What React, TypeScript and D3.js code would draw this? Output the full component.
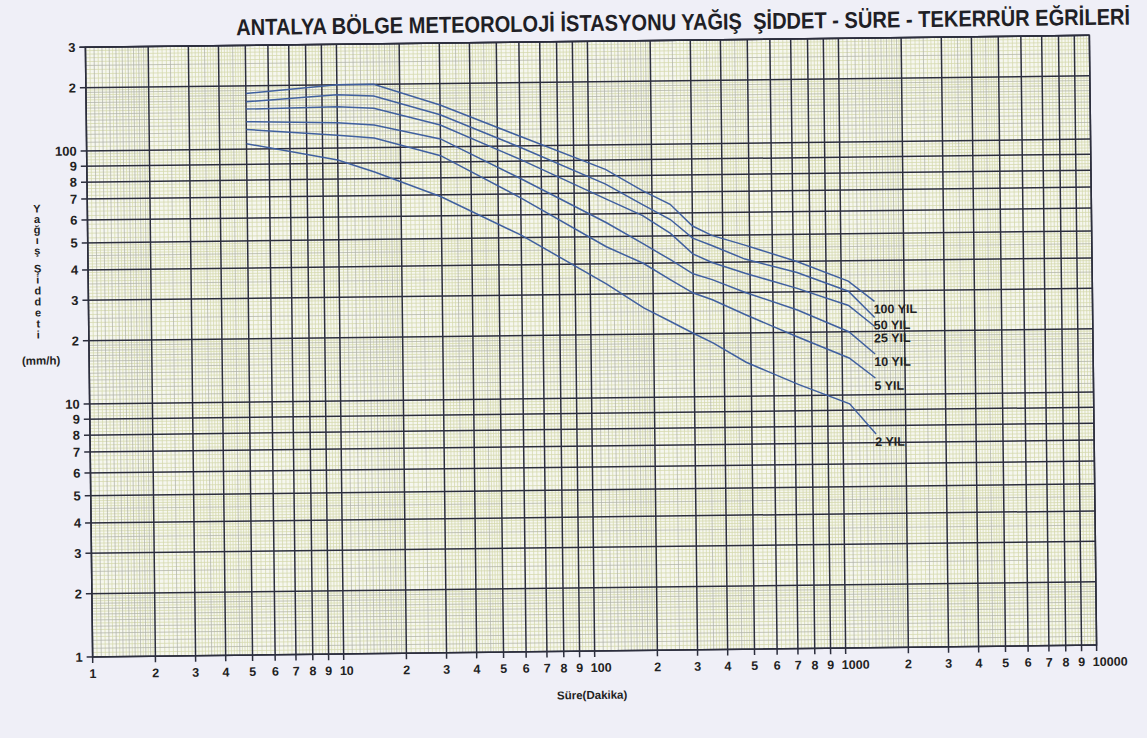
import React, { useLayoutEffect, useRef, useState } from 'react';
import * as d3 from 'd3';

// süre (dakika) and yağış şiddeti (mm/h)
const durations = [5, 10, 15, 30, 60, 120, 180, 240, 300, 360, 480, 720, 1080, 1440];
const periods = ['100 YIL', '50 YIL', '25 YIL', '10 YIL', '5 YIL', '2 YIL'];
const yil100 = [184, 200, 200, 158, 111, 84, 71, 64, 54, 50, 46, 40, 33, 27];
const yil50 = [168, 179, 176, 142, 99, 75, 64, 57, 49, 46, 41, 36, 30, 23];
const yil25 = [155, 157, 154, 127, 91, 67, 59, 51, 43, 40, 36, 31, 26, 21];
const yil10 = [135, 132, 128, 109, 79, 56, 47, 41, 36, 34, 30, 25, 20, 15.6];
const yil5 = [124, 115, 111, 94, 68, 46, 40, 34, 30, 28, 24, 19, 15, 12];
const yil2 = [106, 92, 84, 69, 51, 33, 26, 22.5, 20, 18, 14.5, 11.3, 9.4, 7.5];
const series = [yil100, yil50, yil25, yil10, yil5, yil2];

const xTicks = [
  1, 2, 3, 4, 5, 6, 7, 8, 9,
  10, 20, 30, 40, 50, 60, 70, 80, 90,
  100, 200, 300, 400, 500, 600, 700, 800, 900,
  1000, 2000, 3000, 4000, 5000, 6000, 7000, 8000, 9000,
  10000,
];
const yTicks = [
  1, 2, 3, 4, 5, 6, 7, 8, 9,
  10, 20, 30, 40, 50, 60, 70, 80, 90,
  100, 200, 300,
];

const title = 'ANTALYA BÖLGE METEOROLOJİ İSTASYONU YAĞIŞ  ŞİDDET - SÜRE - TEKERRÜR EĞRİLERİ';
const xTitle = 'Süre(Dakika)';
const yTitleWords = ['Yağış', 'Şiddeti'];
const yUnit = '(mm/h)';

// ruling of the printed paper: share of a decade from 1 up to 1..10
const ruling = [0, 0.25, 0.41, 0.53, 0.637, 0.727, 0.81, 0.877, 0.94, 1];

function paperScale(decades: number, start: number, step: number) {
  const domain: number[] = [];
  const range: number[] = [];
  for (let d = 0; d < decades; d++) {
    for (let m = 1; m <= 9; m++) {
      domain.push(d + Math.log10(m));
      range.push(start + step * (d + ruling[m - 1]));
    }
  }
  domain.push(decades);
  range.push(start + step * decades);
  const lin = d3.scaleLinear().domain(domain).range(range);
  return (v: number) => lin(Math.log10(v));
}

// fine lines of the paper: 0.05 steps in 1-2, 0.1 in 2-5, 0.2 in 5-10
function rulingLines(maxValue: number) {
  const out: { v: number; kind: string }[] = [];
  for (let d = 0; Math.pow(10, d) < maxValue; d++) {
    const p = Math.pow(10, d);
    for (let k = 100; k < 1000; k += 5) {
      const m = k / 100;
      if (m >= 2 && k % 10) continue;
      if (m >= 5 && k % 20) continue;
      const v = (k * p) / 100;
      if (v > maxValue) break;
      let kind = 'minor';
      if (k % 100 === 0) kind = 'major';
      else if (m < 2 ? k % 10 === 0 : k % 50 === 0) kind = 'mid';
      out.push({ v, kind });
    }
  }
  out.push({ v: maxValue, kind: 'major' });
  return out;
}

const fmt = (v: number) => {
  const e = Math.floor(Math.log10(v) + 1e-9);
  const m = Math.round(v / Math.pow(10, e));
  return m === 1 ? String(v) : String(m);
};

const W = 1147;
const H = 738;
const TITLE_WIDTH = 894;

export default function App() {
  const titleRef = useRef<SVGTextElement>(null);
  const [titleScale, setTitleScale] = useState(0.78);

  // squeeze the title horizontally like the condensed print
  useLayoutEffect(() => {
    if (!titleRef.current) return;
    const natural = titleRef.current.getComputedTextLength();
    if (natural > 0) setTitleScale(TITLE_WIDTH / natural);
  }, []);

  const xs = paperScale(4, 89, 251);
  const ys = paperScale(3, 651, -253);

  const left = xs(1);
  const right = xs(10000);
  const top = ys(300);
  const bottom = ys(1);

  const xLines = rulingLines(10000);
  const yLines = rulingLines(300);

  const lineColor: Record<string, string> = { minor: '#d5d8ac', mid: '#b0b3a8', major: '#2c2e3d' };
  const lineWidth: Record<string, number> = { minor: 0.75, mid: 0.75, major: 1.5 };
  const order = ['minor', 'mid', 'major'];

  const line = d3
    .line<number>()
    .x((_, i) => xs(durations[i]))
    .y((d) => ys(d));

  const font = "'Liberation Sans', Arial, sans-serif";
  const last = durations[durations.length - 1];

  // curve labels sit just under each curve end, pushed apart where they would collide
  const labelY: number[] = [];
  series.forEach((s, i) => {
    const y = ys(s[s.length - 1]) + 12;
    labelY.push(i === 0 ? y : Math.max(y, labelY[i - 1] + 13));
  });

  return (
    <svg
      width={W}
      height={H}
      style={{ position: 'absolute', left: 0, top: 0, display: 'block' }}
    >
      <rect x={0} y={0} width={W} height={H} fill="#efeff7" />
      <g transform="rotate(-0.68 591 346)">
        <text
          ref={titleRef}
          transform={`translate(240,31) scale(${titleScale},1)`}
          style={{ whiteSpace: 'pre' }}
          fontFamily="'Liberation Sans', Arial, sans-serif"
          fontWeight="bold"
          fontSize={23}
          fill="#1f1f26"
        >
          {title}
        </text>

        <rect x={left} y={top} width={right - left} height={bottom - top} fill="#f6f7ef" />

        {order.map((kind) => (
          <g key={kind} stroke={lineColor[kind]} strokeWidth={lineWidth[kind]}>
            {xLines
              .filter((l) => l.kind === kind)
              .map((l) => (
                <line
                  key={'x' + l.v}
                  x1={xs(l.v)}
                  x2={xs(l.v)}
                  y1={top}
                  y2={kind === 'major' ? bottom + 6 : bottom}
                />
              ))}
            {yLines
              .filter((l) => l.kind === kind)
              .map((l) => (
                <line
                  key={'y' + l.v}
                  y1={ys(l.v)}
                  y2={ys(l.v)}
                  x1={kind === 'major' ? left - 6 : left}
                  x2={right}
                />
              ))}
          </g>
        ))}
        <rect
          x={left}
          y={top}
          width={right - left}
          height={bottom - top}
          fill="none"
          stroke="#2c2e3d"
          strokeWidth={1.5}
        />

        {/* curves */}
        <g fill="none" stroke="#40609f" strokeWidth={1.5}>
          {series.map((s, i) => (
            <path key={periods[i]} d={line(s) || ''} />
          ))}
        </g>
        <g fontFamily={font} fontWeight="bold" fontSize={12.5} fill="#222">
          {series.map((s, i) => (
            <text key={periods[i]} x={xs(last) - 1} y={labelY[i]}>
              {periods[i]}
            </text>
          ))}
        </g>

        {/* x tick labels */}
        <g fontFamily={font} fontWeight="bold" fontSize={12.5} fill="#222">
          {xTicks.map((v) => {
            const big = v >= 10 && fmt(v) === String(v);
            return (
              <text
                key={v}
                x={big ? xs(v) - 4 : xs(v)}
                y={bottom + 21}
                textAnchor={big ? 'start' : 'middle'}
              >
                {fmt(v)}
              </text>
            );
          })}
        </g>
        {/* y tick labels */}
        <g fontFamily={font} fontWeight="bold" fontSize={13} fill="#222">
          {yTicks.map((v) => (
            <text key={v} x={left - 10} y={ys(v) + 4.5} textAnchor="end">
              {fmt(v)}
            </text>
          ))}
        </g>

        <text
          x={588}
          y={699}
          textAnchor="middle"
          fontFamily={font}
          fontWeight="bold"
          fontSize={11.5}
          fill="#222"
        >
          {xTitle}
        </text>

        <g fontFamily={font} fontWeight="bold" fill="#222">
          <text
            x={38.5}
            y={196}
            fontSize={11}
            letterSpacing={-1.5}
            style={{ writingMode: 'vertical-rl', textOrientation: 'upright' } as React.CSSProperties}
          >
            {yTitleWords[0]}
          </text>
          <text
            x={38.5}
            y={256}
            fontSize={11}
            letterSpacing={-1}
            style={{ writingMode: 'vertical-rl', textOrientation: 'upright' } as React.CSSProperties}
          >
            {yTitleWords[1]}
          </text>
          <text x={41} y={358} fontSize={11.5} textAnchor="middle">
            {yUnit}
          </text>
        </g>
      </g>
    </svg>
  );
}
